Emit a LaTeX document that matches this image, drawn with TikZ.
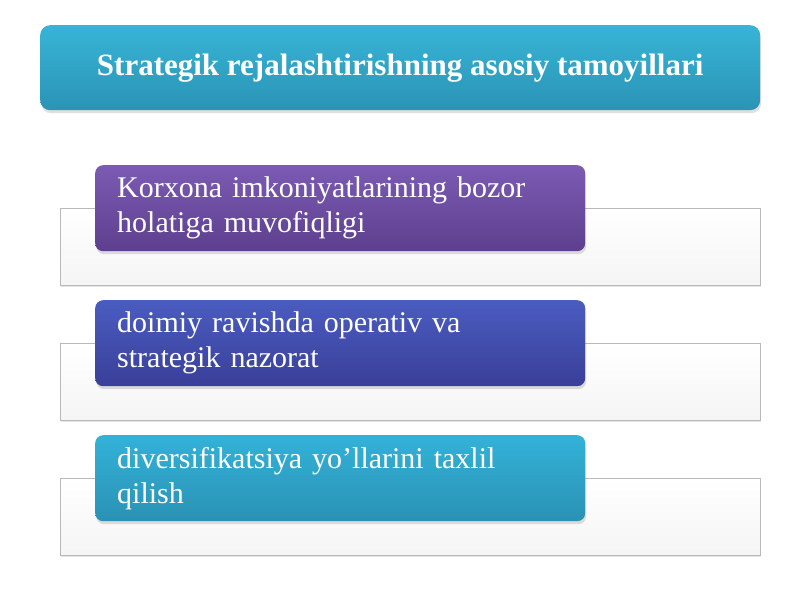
\documentclass[tikz,border=0pt]{standalone}
\usepackage{fontspec}
\setmainfont{Liberation Serif}
\usetikzlibrary{shadows}
\definecolor{headtop}{HTML}{38B4D6}
\definecolor{headbot}{HTML}{2A94B6}
\definecolor{itemaTop}{HTML}{7B5BB3}
\definecolor{itemaBot}{HTML}{5D3F8E}
\definecolor{itembTop}{HTML}{4A5CC0}
\definecolor{itembBot}{HTML}{3A3F98}
\definecolor{itemcTop}{HTML}{33B2D8}
\definecolor{itemcBot}{HTML}{2A92B4}
\tikzset{
  headbox/.style={rounded corners=10pt, top color=headtop, bottom color=headbot,
    text=white, font=\bfseries\fontsize{31}{36}\selectfont,
    minimum width=720pt, minimum height=85pt, anchor=north west,
    drop shadow={opacity=0.25, shadow xshift=1pt, shadow yshift=-3pt}},
  backbox/.style={draw=gray!55, top color=white, bottom color=gray!8,
    minimum width=700pt, minimum height=77pt, anchor=north west,
    drop shadow={opacity=0.2, shadow xshift=1pt, shadow yshift=-2pt}},
  itembox/.style={rounded corners=8pt, text=white,
    font=\fontsize{30}{35}\selectfont, align=left,
    text width=446pt, inner xsep=22pt, minimum height=86pt, anchor=north west,
    drop shadow={opacity=0.25, shadow xshift=1pt, shadow yshift=-3pt}}
}
\begin{document}
\begin{tikzpicture}[x=1pt,y=-1pt]
  \useasboundingbox[fill=white] (0,0) rectangle (800,600);
  %Title
  \node[headbox] (title) at (40,25) {Strategik rejalashtirishning asosiy tamoyillari};
  %Background frames
  \foreach \i in {0,1,2}
    {
      \node[backbox] (frame\i) at (60,208+135*\i) {};
    }
  %Items
  \node[itembox, top color=itemaTop, bottom color=itemaBot] (itema) at (95,165)
    {Korxona imkoniyatlarining bozor\\holatiga muvofiqligi};
  \node[itembox, top color=itembTop, bottom color=itembBot] (itemb) at (95,300)
    {doimiy ravishda operativ va\\strategik nazorat};
  \node[itembox, top color=itemcTop, bottom color=itemcBot] (itemc) at (95,435)
    {diversifikatsiya yo’llarini taxlil\\qilish};
\end{tikzpicture}
\end{document}
